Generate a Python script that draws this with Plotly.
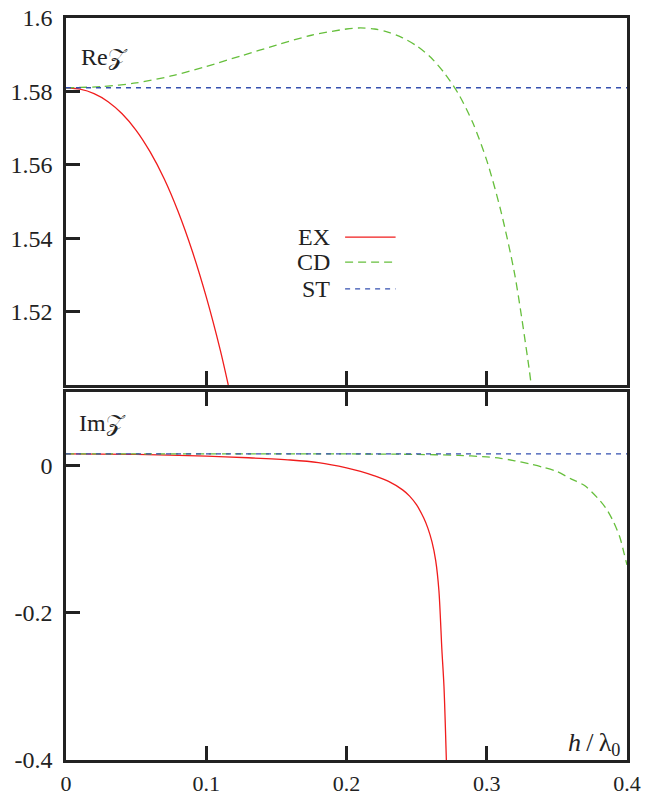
import plotly.graph_objects as go

# ---- data ----
# Real part
ex_re_x = [0.0, 0.01, 0.02, 0.03, 0.04, 0.05, 0.06, 0.07, 0.08, 0.09, 0.10, 0.11, 0.1157]
ex_re_y = [1.581, 1.5806, 1.5794, 1.5772, 1.5739, 1.5694, 1.5635, 1.5562, 1.5472, 1.5365,
           1.5240, 1.5095, 1.500]

cd_re_x = [0.0, 0.025, 0.05, 0.075, 0.1, 0.125, 0.15, 0.175, 0.20, 0.21, 0.22, 0.23, 0.24,
           0.25, 0.26, 0.27, 0.28, 0.29, 0.30, 0.31, 0.32, 0.33, 0.3317]
cd_re_y = [1.581, 1.5813, 1.5823, 1.5842, 1.5868, 1.5897, 1.5926, 1.5953, 1.5970, 1.5973,
           1.5970, 1.5961, 1.5946, 1.5924, 1.5893, 1.5849, 1.5792, 1.5715, 1.5612, 1.5475,
           1.5300, 1.5050, 1.500]

st_re_x = [0.0, 0.4]
st_re_y = [1.581, 1.581]

# Imaginary part
ex_im_x = [0.0, 0.05, 0.10, 0.13, 0.16, 0.18, 0.20, 0.21, 0.22, 0.23, 0.24, 0.245, 0.25,
           0.255, 0.258, 0.261, 0.2636, 0.2659, 0.268, 0.2695, 0.2712]
ex_im_y = [0.016, 0.0152, 0.0128, 0.0106, 0.0076, 0.0040, -0.0030, -0.0078, -0.0140, -0.0215,
           -0.0330, -0.0415, -0.0535, -0.071, -0.085, -0.104, -0.129, -0.170, -0.250, -0.300,
           -0.400]

cd_im_x = [0.0, 0.1, 0.2, 0.25, 0.28, 0.30, 0.31, 0.32, 0.33, 0.34, 0.35, 0.36, 0.37, 0.38,
           0.385, 0.39, 0.395, 0.398, 0.40]
cd_im_y = [0.016, 0.016, 0.0158, 0.0152, 0.0138, 0.0118, 0.0098, 0.0065, 0.0025, -0.0022,
           -0.0080, -0.0180, -0.0275, -0.0460, -0.058, -0.075, -0.098, -0.120, -0.135]

st_im_x = [0.0, 0.4]
st_im_y = [0.016, 0.016]

x_ticks = [0, 0.1, 0.2, 0.3, 0.4]
x_tick_labels = ["0", "0.1", "0.2", "0.3", "0.4"]
re_ticks = [1.52, 1.54, 1.56, 1.58, 1.6]
re_tick_labels = ["1.52", "1.54", "1.56", "1.58", "1.6"]
im_ticks = [-0.4, -0.2, 0]
im_tick_labels = ["-0.4", "-0.2", "0"]

series_names = ["EX", "CD", "ST"]

RED = "#f01c1c"
GREEN = "#66bf3c"
BLUE = "#3550b0"
AX = "#222222"
FONT = "Liberation Serif, DejaVu Serif, serif"
FS = 24

fig = go.Figure()

def add(x, y, color, dash, xa, ya, shape="spline"):
    fig.add_trace(go.Scatter(x=x, y=y, mode="lines", xaxis=xa, yaxis=ya,
                             line=dict(color=color, width=1.3, dash=dash, shape=shape,
                                       smoothing=0.8),
                             showlegend=False, hoverinfo="skip"))

add(ex_re_x, ex_re_y, RED, "solid", "x", "y")
add(cd_re_x, cd_re_y, GREEN, "8px,5px", "x", "y")
add(st_re_x, st_re_y, BLUE, "5px,5px", "x", "y", "linear")

add(ex_im_x, ex_im_y, RED, "solid", "x2", "y2")
add(cd_im_x, cd_im_y, GREEN, "8px,5px", "x2", "y2")
add(st_im_x, st_im_y, BLUE, "5px,5px", "x2", "y2", "linear")

tickfont = dict(family=FONT, size=FS, color=AX)
common_x = dict(range=[0, 0.4], tickvals=x_ticks, ticks="inside", ticklen=14, tickwidth=2.5,
                tickcolor=AX, showline=True, linecolor=AX, linewidth=2.5, showgrid=False,
                zeroline=False, tickfont=dict(family=FONT, size=22, color=AX), automargin=False)
common_y = dict(ticks="inside", ticklen=14, tickwidth=2.5, tickcolor=AX, showline=True,
                linecolor=AX, linewidth=2.5, showgrid=False, zeroline=False, tickfont=tickfont,
                mirror=True, ticklabelstandoff=6, automargin=False)

fig.update_layout(
    width=648, height=795,
    margin=dict(l=66, r=21, t=18, b=35),
    paper_bgcolor="white", plot_bgcolor="white",
    font=dict(family=FONT, size=FS, color=AX),
    xaxis=dict(common_x, domain=[0, 1], anchor="y", showticklabels=False, mirror=True),
    yaxis=dict(common_y, domain=[0.5054, 1], anchor="x", range=[1.5, 1.6],
               tickvals=re_ticks, ticktext=re_tick_labels),
    xaxis2=dict(common_x, domain=[0, 1], anchor="y2", mirror="ticks",
                ticktext=x_tick_labels, ticklabelstandoff=2),
    yaxis2=dict(common_y, domain=[0, 0.496], anchor="x2", range=[-0.4, 0.1],
                tickvals=im_ticks, ticktext=im_tick_labels),
)

# panel labels
fig.add_annotation(x=0.009, y=1.5895, xref="x", yref="y", text="Re𝒵", showarrow=False,
                   xanchor="left", yanchor="middle", font=dict(family=FONT, size=FS, color=AX))
fig.add_annotation(x=0.008, y=0.058, xref="x2", yref="y2", text="Im𝒵", showarrow=False,
                   xanchor="left", yanchor="middle", font=dict(family=FONT, size=FS, color=AX))
fig.add_annotation(x=0.3965, y=-0.378, xref="x2", yref="y2",
                   text="<i>h</i>\u2009/\u2009λ<sub>0</sub>", showarrow=False,
                   xanchor="right", yanchor="middle", font=dict(family=FONT, size=26, color=AX))

# legend (text left, sample right)
leg_colors = [RED, GREEN, BLUE]
leg_dash = ["solid", "8px,5px", "5px,5px"]
leg_y = [1.5403, 1.5335, 1.5262]
for name, c, d, yv in zip(series_names, leg_colors, leg_dash, leg_y):
    fig.add_annotation(x=0.190, y=yv, xref="x", yref="y", text=name, showarrow=False,
                       xanchor="right", yanchor="middle", font=dict(family=FONT, size=FS, color=AX))
    fig.add_shape(type="line", xref="x", yref="y", x0=0.199, x1=0.235, y0=yv, y1=yv,
                  line=dict(color=c, width=1.3, dash=d))

fig.write_html("out.html")
